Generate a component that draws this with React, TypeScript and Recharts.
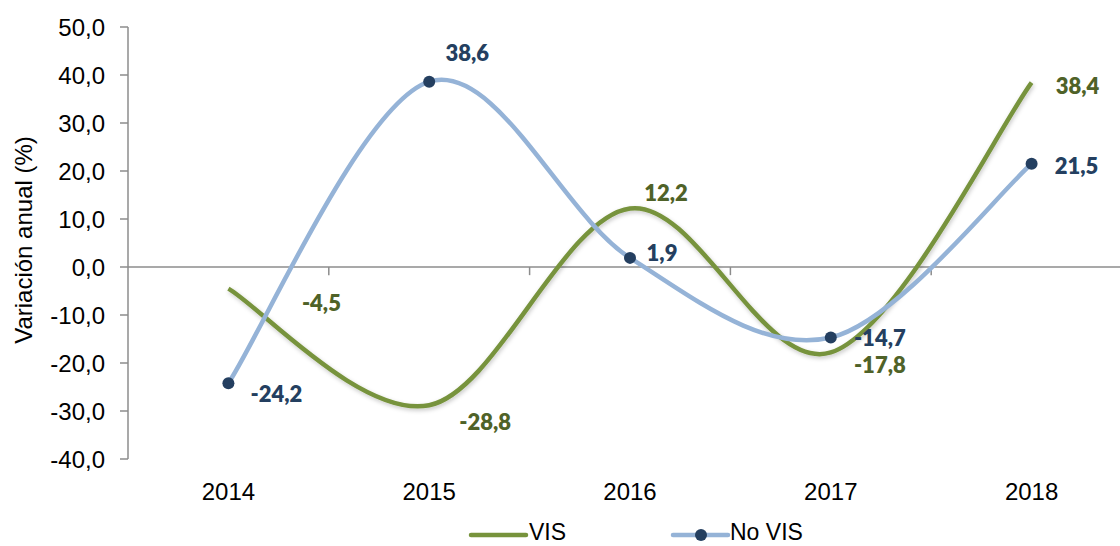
import { LabelList, Line, LineChart, ReferenceLine, XAxis, YAxis } from 'recharts'

const years = ['2014', '2015', '2016', '2017', '2018']
const vis = [-4.5, -28.8, 12.2, -17.8, 38.4]
const noVis = [-24.2, 38.6, 1.9, -14.7, 21.5]
const yTicks = [-40, -30, -20, -10, 0, 10, 20, 30, 40, 50]

// label offsets from each point (px), as placed in the original
const visOffsets = [[93, 14], [56, 16], [36, -16], [49, 12], [46, 3]]
const noVisOffsets = [[48, 10], [38, -29], [32, -5], [49, 0], [45, 2]]

const data = years.map((year, i) => ({ i, year, vis: vis[i], noVis: noVis[i] }))

const GREEN = '#77933C'
const GREEN_TEXT = '#4F6228'
const BLUE = '#95B3D7'
const NAVY = '#243F60'
const AXIS = '#8c8c8c'
const FONT = "'Liberation Sans', Arial, sans-serif"

const fmt = (v: number) => v.toFixed(1).replace('.', ',')

// Excel-like smoothing (Catmull-Rom through the points)
const excelSmooth: any = (ctx: any) => {
  let pts: number[][] = []
  return {
    areaStart() {},
    areaEnd() {},
    lineStart() {
      pts = []
    },
    point(x: number, y: number) {
      pts.push([+x, +y])
    },
    lineEnd() {
      if (!pts.length) return
      ctx.moveTo(pts[0][0], pts[0][1])
      for (let k = 0; k < pts.length - 1; k++) {
        const p0 = pts[k - 1] || pts[k]
        const p1 = pts[k]
        const p2 = pts[k + 1]
        const p3 = pts[k + 2] || p2
        ctx.bezierCurveTo(
          p1[0] + (p2[0] - p0[0]) / 6,
          p1[1] + (p2[1] - p0[1]) / 6,
          p2[0] - (p3[0] - p1[0]) / 6,
          p2[1] - (p3[1] - p1[1]) / 6,
          p2[0],
          p2[1],
        )
      }
    },
  }
}

const makeLabel = (offsets: number[][], color: string) => (props: any) => {
  const { x, y, index, value } = props
  const [dx, dy] = offsets[index]
  return (
    <text
      x={x + dx}
      y={y + dy}
      textAnchor="middle"
      dominantBaseline="central"
      fill={color}
      fontFamily="Lato, 'Open Sans', sans-serif"
      fontWeight={800}
      fontSize={22}
    >
      {fmt(value)}
    </text>
  )
}

const boundaries = years.slice(1).map((_, k) => k + 0.5)

export default function App() {
  return (
    <div style={{ position: 'fixed', left: 0, top: 0, width: 1120, height: 546, overflow: 'hidden', background: '#fff' }}>
      <svg width={0} height={0} style={{ position: 'absolute' }}>
        <defs>
          <filter id="glow" x="-10%" y="-10%" width="120%" height="120%">
            <feDropShadow dx={1} dy={2} stdDeviation={2} floodColor="#000" floodOpacity={0.22} />
          </filter>
        </defs>
      </svg>
      <LineChart width={1140} height={546} data={data} margin={{ top: 27, right: 8, left: 0, bottom: 57 }}>
        <XAxis
          dataKey="i"
          type="number"
          domain={[-0.5, 4.5]}
          ticks={[0, 1, 2, 3, 4]}
          tickFormatter={(v: number) => years[v]}
          axisLine={false}
          tickLine={false}
          tickSize={0}
          tickMargin={24}
          height={30}
          tick={{ fill: '#000', fontSize: 24, fontFamily: FONT }}
        />
        <YAxis
          domain={[-40, 50]}
          ticks={yTicks}
          width={128}
          tickFormatter={fmt}
          axisLine={{ stroke: AXIS, strokeWidth: 1.5 }}
          tickLine={{ stroke: AXIS, strokeWidth: 1.5 }}
          tickSize={8}
          tickMargin={15}
          tick={{ fill: '#000', fontSize: 24, fontFamily: FONT }}
          label={{
            content: () => (
              <text
                x={23}
                y={240}
                transform="rotate(-90 23 240)"
                textAnchor="middle"
                dominantBaseline="central"
                fill="#000"
                fontSize={24}
                fontFamily={FONT}
              >
                Variación anual (%)
              </text>
            ),
          }}
        />
        <ReferenceLine y={0} stroke={AXIS} strokeWidth={1.5} />
        {boundaries.map((b) => (
          <ReferenceLine
            key={b}
            segment={[
              { x: b, y: 0 },
              { x: b, y: -1.7 },
            ]}
            stroke={AXIS}
            strokeWidth={1.5}
          />
        ))}
        <Line
          dataKey="vis"
          type={excelSmooth}
          stroke={GREEN}
          strokeWidth={4.5}
          filter="url(#glow)"
          dot={false}
          activeDot={false}
          isAnimationActive={false}
        >
          <LabelList dataKey="vis" content={makeLabel(visOffsets, GREEN_TEXT)} />
        </Line>
        <Line
          dataKey="noVis"
          type={excelSmooth}
          stroke={BLUE}
          strokeWidth={4.5}
          dot={{ r: 6, fill: NAVY, stroke: NAVY, strokeWidth: 0 }}
          activeDot={false}
          isAnimationActive={false}
        >
          <LabelList dataKey="noVis" content={makeLabel(noVisOffsets, NAVY)} />
        </Line>
      </LineChart>
      <svg width={1120} height={46} style={{ position: 'absolute', left: 0, top: 500 }}>
        <line x1={471} x2={526} y1={35} y2={35} stroke={GREEN} strokeWidth={4.5} strokeLinecap="round" />
        <text x={529} y={32} dominantBaseline="central" fontSize={23} fontFamily={FONT} fill="#000">
          VIS
        </text>
        <line x1={673} x2={728} y1={35} y2={35} stroke={BLUE} strokeWidth={4.5} strokeLinecap="round" />
        <circle cx={701} cy={35} r={6} fill={NAVY} />
        <text x={730} y={32} dominantBaseline="central" fontSize={23} fontFamily={FONT} fill="#000">
          No VIS
        </text>
      </svg>
    </div>
  )
}
